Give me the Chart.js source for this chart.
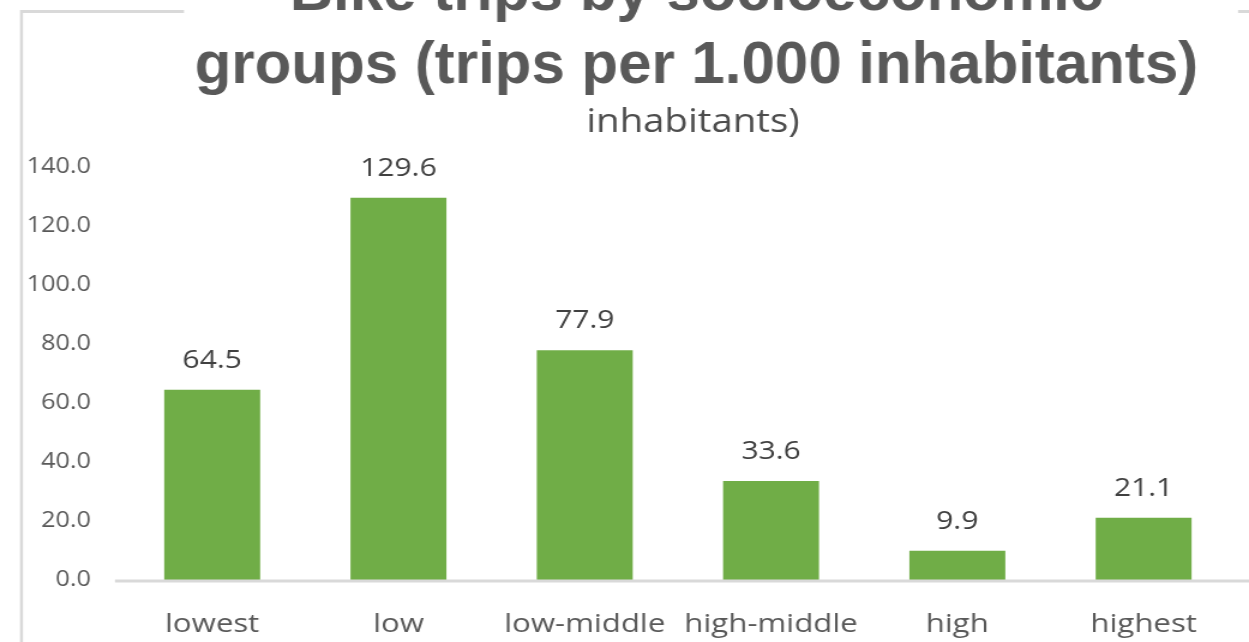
<!DOCTYPE html>
<html>
<head>
<meta charset="utf-8">
<script src="https://cdn.jsdelivr.net/npm/chart.js@4/dist/chart.umd.min.js"></script>
<style>
  html, body { margin: 0; padding: 0; background: #ffffff; overflow: hidden; width: 1249px; height: 642px; }
  #wrap { position: absolute; left: 0; top: 0; width: 1041px; height: 642px; transform-origin: 0 0; transform: scaleX(1.19981); }
  canvas { display: block; }
</style>
</head>
<body>
<div id="wrap"><canvas id="c" width="1041" height="642" style="width:1041px;height:642px"></canvas></div>
<script>
// ---- data ----
const categories = ['lowest', 'low', 'low-middle', 'high-middle', 'high', 'highest'];
const tripsPer1000 = [64.5, 129.6, 77.9, 33.6, 9.9, 21.1];
const yTicks = [0, 20, 40, 60, 80, 100, 120, 140];
const titleLines = ['Bike trips by socioeconomic', 'groups (trips per 1.000 inhabitants)'];
const subtitleText = 'inhabitants)';

const S = 1249 / 1041; // horizontal stretch of the picture

const overlay = {
  id: 'overlay',
  afterDraw(chart) {
    const ctx = chart.ctx;
    // data labels (in chart coordinates)
    const meta = chart.getDatasetMeta(0);
    ctx.save();
    ctx.font = '25px "Open Sans"';
    ctx.fillStyle = '#404040';
    ctx.textAlign = 'center';
    ctx.textBaseline = 'alphabetic';
    meta.data.forEach((bar, i) => {
      ctx.fillText(tripsPer1000[i].toFixed(1), bar.x, bar.y - 22);
    });
    ctx.restore();

    // unstretched drawing
    ctx.save();
    ctx.scale(1 / S, 1);
    // frame lines
    ctx.strokeStyle = '#d9d9d9';
    ctx.lineWidth = 3;
    ctx.beginPath();
    ctx.moveTo(21.5, 660); ctx.lineTo(21.5, 11.5); ctx.lineTo(184, 11.5);
    ctx.moveTo(1238, 11.5); ctx.lineTo(1260, 11.5);
    ctx.stroke();
    // x axis line
    const yb = chart.chartArea.bottom;
    ctx.lineWidth = 3;
    ctx.beginPath();
    ctx.moveTo(115, yb + 1); ctx.lineTo(1260, yb + 1);
    ctx.stroke();
    // title
    ctx.fillStyle = '#595959';
    ctx.textAlign = 'center';
    ctx.textBaseline = 'alphabetic';
    ctx.font = 'bold 60px "Liberation Sans", Arial, sans-serif';
    ctx.fillText(titleLines[0], 696.5, 10);
    ctx.fillText(titleLines[1], 696.5, 83);
    ctx.restore();

    // subtitle (part of stretched chart picture)
    ctx.save();
    ctx.fillStyle = '#4d4d4d';
    ctx.textAlign = 'center';
    ctx.textBaseline = 'alphabetic';
    ctx.font = '32px "Open Sans"';
    ctx.fillText(subtitleText, 693 / S, 132);
    ctx.restore();
  }
};

new Chart(document.getElementById('c'), {
  type: 'bar',
  data: {
    labels: categories,
    datasets: [{
      data: tripsPer1000,
      backgroundColor: '#70ad47',
      borderWidth: 0,
      categoryPercentage: 1,
      barPercentage: 0.515
    }]
  },
  options: {
    responsive: false,
    animation: false,
    devicePixelRatio: 1,
    layout: { padding: { left: 20.8, right: 10.2, top: 167, bottom: 0 } },
    plugins: { legend: { display: false }, title: { display: false }, tooltip: { enabled: false } },
    scales: {
      y: {
        min: 0, max: 140,
        afterFit(scale) { scale.width = 78.4; },
        afterBuildTicks(scale) { scale.ticks = yTicks.map(v => ({ value: v })); },
        grid: { display: false, drawTicks: false },
        border: { display: false },
        ticks: {
          padding: 23.4,
          color: '#595959',
          font: { family: '"Open Sans"', size: 21 },
          callback: v => Number(v).toFixed(1)
        }
      },
      x: {
        afterFit(scale) { scale.height = 62; },
        grid: { display: false, drawTicks: false },
        border: { display: false },
        ticks: {
          padding: 29,
          color: '#595959',
          maxRotation: 0,
          autoSkip: false,
          font: { family: '"Open Sans"', size: 26 }
        }
      }
    }
  },
  plugins: [overlay]
});
</script>
</body>
</html>
